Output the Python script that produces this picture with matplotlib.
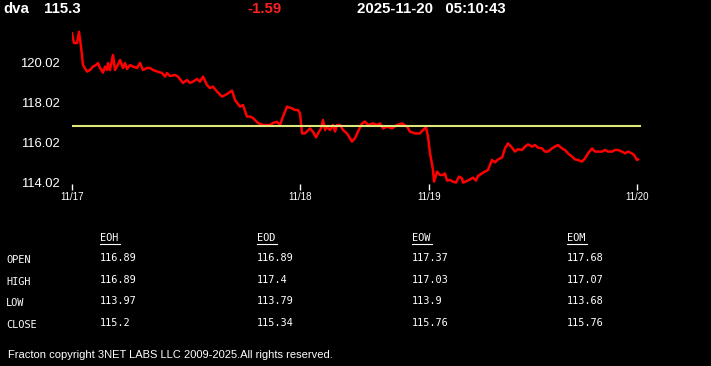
import matplotlib.pyplot as plt
from matplotlib.lines import Line2D

# price series, x = bar position from the first tick
bar = [0, 2, 5, 7, 9, 11, 15, 18, 21, 24, 26, 28, 31, 33, 35, 36, 38, 41, 43, 45,
       48, 51, 53, 55, 58, 61, 65, 68, 71, 75, 78, 81, 86, 90, 93, 95, 98, 103, 106, 111,
       115, 118, 121, 125, 128, 131, 135, 138, 141, 145, 150, 155, 160, 163, 168, 171, 175, 178, 181, 186,
       191, 198, 201, 205, 208, 211, 215, 220, 223, 226, 228, 230, 233, 238, 241, 244, 246, 249, 251, 253,
       255, 258, 261, 263, 265, 268, 271, 275, 280, 283, 286, 290, 293, 296, 301, 305, 308, 311, 315, 320,
       325, 330, 335, 338, 343, 348, 351, 354, 356, 358, 361, 362, 365, 368, 371, 373, 375, 378, 381, 384,
       387, 390, 391, 395, 398, 401, 404, 406, 410, 413, 416, 420, 423, 426, 430, 433, 436, 440, 443, 446,
       450, 453, 456, 460, 463, 466, 470, 473, 476, 480, 483, 486, 490, 493, 496, 500, 503, 506, 510, 513,
       516, 520, 523, 526, 530, 533, 536, 540, 543, 546, 550, 553, 556, 560, 562, 565, 566]
price = [121.51, 121.02, 121.02, 121.58, 120.84, 119.92, 119.59, 119.67, 119.84, 119.92,
         120.02, 119.77, 119.54, 119.84, 119.67, 120.02, 119.67, 120.42, 119.67, 119.84,
         120.17, 119.77, 120.02, 119.72, 119.92, 119.84, 119.77, 120.02, 119.67, 119.77,
         119.77, 119.67, 119.58, 119.52, 119.34, 119.52, 119.37, 119.42, 119.34, 119.02,
         119.17, 119.02, 119.09, 119.22, 119.09, 119.34, 118.92, 118.77, 118.84, 118.59,
         118.34, 118.47, 118.64, 118.17, 117.84, 117.92, 117.34, 117.34, 117.27, 117.02,
         116.92, 116.92, 117.02, 117.08, 116.92, 117.34, 117.84, 117.75, 117.67, 117.67,
         117.50, 116.50, 116.50, 116.75, 116.58, 116.30, 116.50, 116.75, 117.17, 116.67,
         116.84, 116.67, 116.92, 116.59, 116.92, 116.92, 116.67, 116.50, 116.09, 116.26,
         116.59, 117.00, 117.09, 116.92, 117.00, 116.92, 117.00, 116.75, 116.84, 116.75,
         116.92, 117.00, 116.84, 116.59, 116.50, 116.50, 116.67, 116.80, 116.34, 115.52,
         114.67, 114.09, 114.59, 114.42, 114.42, 114.50, 114.14, 114.17, 114.09, 114.04,
         114.34, 114.26, 114.04, 114.12, 114.20, 114.29, 114.14, 114.37, 114.50, 114.59,
         114.67, 115.17, 115.05, 115.20, 115.29, 115.75, 116.00, 115.79, 115.59, 115.71,
         115.67, 115.84, 115.95, 115.84, 115.92, 115.79, 115.75, 115.59, 115.59, 115.75,
         115.84, 115.92, 115.75, 115.67, 115.50, 115.34, 115.20, 115.17, 115.09, 115.25,
         115.50, 115.75, 115.59, 115.59, 115.59, 115.67, 115.59, 115.59, 115.67, 115.67,
         115.59, 115.50, 115.59, 115.50, 115.42, 115.17, 115.20]
ref_level = 116.89
ref_end = 568

day_pos = [0, 228, 357, 565]
day_labels = ["11/17", "11/18", "11/19", "11/20"]
y_ticks = [114.02, 116.02, 118.02, 120.02]

symbol = "dva"
last = "115.3"
change = "-1.59"
stamp = "2025-11-20   05:10:43"

cols = ["EOH", "EOD", "EOW", "EOM"]
rows = ["OPEN", "HIGH", "LOW", "CLOSE"]
table = [["116.89", "116.89", "117.37", "117.68"],
         ["116.89", "117.4", "117.03", "117.07"],
         ["113.97", "113.79", "113.9", "113.68"],
         ["115.2", "115.34", "115.76", "115.76"]]
footer = "Fracton copyright 3NET LABS LLC 2009-2025.All rights reserved."

W, H = 711, 366
fig = plt.figure(figsize=(W / 100, H / 100), dpi=100, facecolor="black")

# axes in pixel box: left 72, right 645, top 25, bottom 184
ax = fig.add_axes([72 / W, 1 - 184 / H, 573 / W, 159 / H], facecolor="black")
ax.plot(bar, price, color="#ff0000", lw=1.8, solid_joinstyle="round")
ax.plot([0, ref_end], [ref_level, ref_level], color="#dfe67a", lw=1.5)
ax.set_xlim(0, 573)
ax.set_ylim(113.97, 121.92)
for s in ax.spines.values():
    s.set_visible(False)
ax.set_xticks(day_pos)
ax.set_xticklabels(day_labels)
ax.set_yticks(y_ticks)
ax.set_yticklabels([f"{v:.2f}" for v in y_ticks])
ax.tick_params(axis="x", colors="white", length=4, width=1, labelsize=7, pad=2)
ax.tick_params(axis="y", colors="white", length=0, labelsize=9.4, pad=9)
for t in ax.get_xticklabels() + ax.get_yticklabels():
    t.set_fontfamily("Liberation Sans")

def px(x, y):
    return x / W, 1 - y / H

hdr = dict(color="white", fontsize=10.8, fontweight="bold", family="Liberation Sans", va="center")
fig.text(*px(3, 9), symbol, **hdr)
fig.text(*px(44, 9), last, **hdr)
fig.text(*px(247, 9), change, **{**hdr, "color": "#ff2020"})
fig.text(*px(357, 9), stamp, **hdr)

mono = dict(color="white", fontsize=7.4, family="DejaVu Sans Mono", va="center")
col_x = [100, 257, 412, 567]
for cx, name in zip(col_x, cols):
    t = fig.text(*px(cx, 238), name, **mono)
    fig.add_artist(Line2D([cx / W, (cx + 20) / W], [1 - 244 / H, 1 - 244 / H],
                          color="white", lw=0.8, transform=fig.transFigure))
row_y = [259, 281, 302, 324]
for ry, name, vals in zip(row_y, rows, table):
    fig.text(*px(6, ry + 1), name, **mono)
    for cx, v in zip(col_x, vals):
        fig.text(*px(cx, ry - 1), v, **mono)

fig.text(*px(8, 355), footer, color="white", fontsize=8.0, family="Liberation Sans", va="center")

fig.savefig("out.png", dpi=100, facecolor="black")
